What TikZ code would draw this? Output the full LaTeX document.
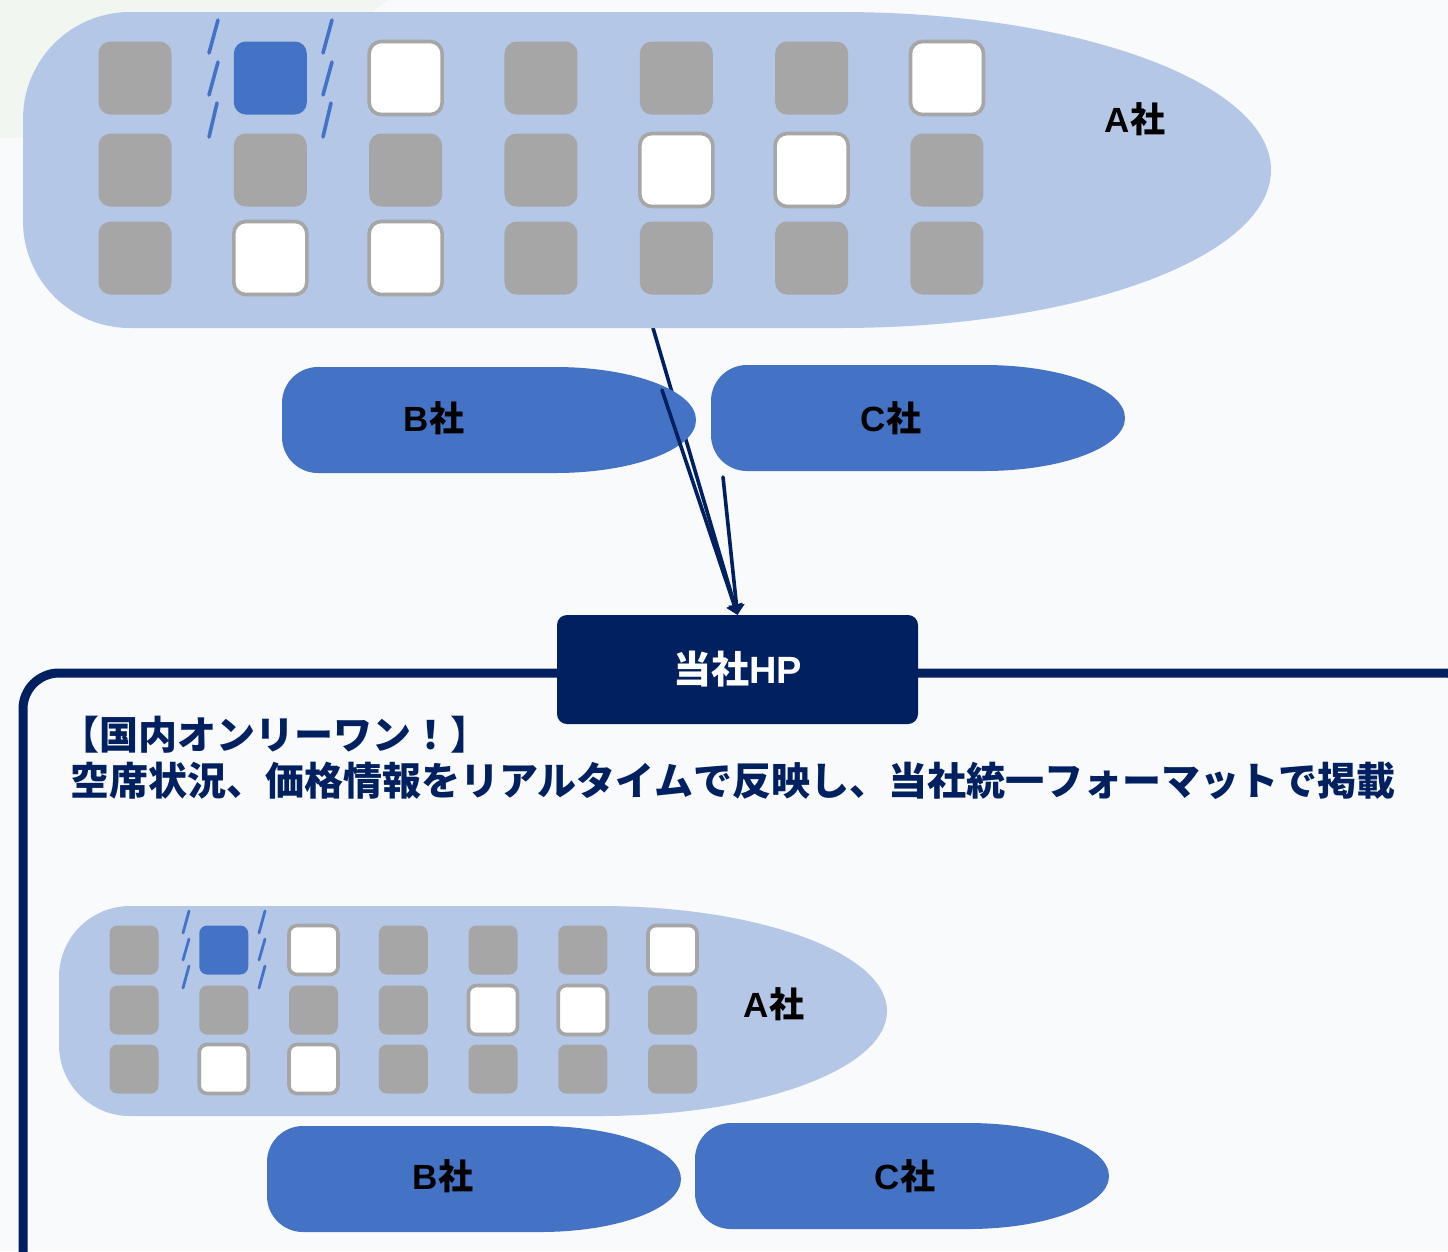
\documentclass[tikz,border=0pt]{standalone}
\usepackage{fontspec}
\usetikzlibrary{arrows.meta}
\setmainfont{Liberation Sans}
\newfontfamily\cjk{Noto Sans CJK JP}
\definecolor{bgc}{HTML}{F8FAFC}
\definecolor{greenc}{HTML}{F1F6F0}
\definecolor{lightb}{HTML}{B4C7E7}
\definecolor{midb}{HTML}{4472C4}
\definecolor{navy}{HTML}{002060}
\definecolor{seatg}{HTML}{A6A6A6}
\def\sz{73pt}\def\rr{12pt}
\tikzset{
  sg/.style={rectangle,inner sep=0pt,minimum size=\sz,rounded corners=\rr,fill=seatg},
  sb/.style={rectangle,inner sep=0pt,minimum size=\sz,rounded corners=\rr,fill=midb},
  sw/.style={rectangle,inner sep=0pt,minimum size=\sz,rounded corners=\rr,fill=white,draw=seatg,line width=3.6pt},
  tick/.style={draw=midb,line width=3.6pt,line cap=round},
  tickS/.style={draw=midb,line width=2.8pt,line cap=round},
  conn/.style={draw=navy,line width=3.6pt,line cap=round,-{Triangle[length=10pt,width=16pt]}},
  lbl/.style={font=\bfseries,text=black,inner sep=0pt},
}
\newcommand\planeshape[7]{% x1 y1 x2 y2 r xm colour
  \pgfmathsetmacro\ymid{(#2+#4)/2}
  \pgfmathsetmacro\ry{(#4-#2)/2}
  \pgfmathsetmacro\rxx{#3-#6}
  \fill[#7] (#1+#5,#2) -- (#6,#2)
    .. controls (#6+.5523*\rxx,#2) and (#3,\ymid-.5523*\ry) .. (#3,\ymid)
    .. controls (#3,\ymid+.5523*\ry) and (#6+.5523*\rxx,#4) .. (#6,#4)
    -- (#1+#5,#4)
    .. controls (#1+.4477*#5,#4) and (#1,#4-.4477*#5) .. (#1,#4-#5)
    -- (#1,#2+#5)
    .. controls (#1,#2+.4477*#5) and (#1+.4477*#5,#2) .. (#1+#5,#2) -- cycle;
}
\newcommand\seatgrid[6]{% prefix x0 dx y1 y2 y3
  \foreach \k [count=\c] in {sg,sb,sw,sg,sg,sg,sw}
    {\node[\k] (#1r1c\c) at ({#2+#3*(\c-1)},#4) {};}
  \foreach \k [count=\c] in {sg,sg,sg,sg,sw,sw,sg}
    {\node[\k] (#1r2c\c) at ({#2+#3*(\c-1)},#5) {};}
  \foreach \k [count=\c] in {sg,sw,sw,sg,sg,sg,sg}
    {\node[\k] (#1r3c\c) at ({#2+#3*(\c-1)},#6) {};}
}
\begin{document}
\begin{tikzpicture}[x=1pt,y=-1pt]
\useasboundingbox (0,0) rectangle (1448,1251);
\clip (0,0) rectangle (1448,1251);
\fill[bgc] (0,0) rectangle (1448,1251);
\fill[greenc] (0,0) -- (388,0) -- (372,12) -- (23,138) -- (0,138) -- cycle;
% frame
\draw[navy,line width=9pt,rounded corners=36pt] (23,673) rectangle (1480,1290);
% HP
\node[rectangle,fill=navy,rounded corners=10pt,minimum width=361pt,minimum height=109pt,inner sep=0pt,text=white,font=\bfseries\fontsize{38}{38}\selectfont] (hp) at (737.5,669.5) {{\cjk 当社}HP};
\coordinate (fromA) at (653,328);
\coordinate (fromB) at (662,390);
\coordinate (fromC) at (723,477);
\draw[conn] (fromA) -- (hp.north);
% plane A
\planeshape{23}{12}{1271}{328}{107}{840}{lightb}
\def\sz{73pt}\def\rr{12pt}
\seatgrid{a}{135}{135.33}{78}{170}{258}
\foreach \xa in {218,332}{
  \draw[tick] (\xa,20) -- (\xa-9,53);
  \draw[tick] (\xa,62) -- (\xa-9,95);
  \draw[tick] (\xa-1,103) -- (\xa-9,137);
}
\node[lbl,font=\bfseries\fontsize{35}{35}\selectfont] (la) at (1135,119) {A{\cjk 社}};
% plane B, C
\planeshape{282}{367}{696}{473}{36}{555}{midb}
\node[lbl,font=\bfseries\fontsize{35}{35}\selectfont] (lb) at (434,418) {B{\cjk 社}};
\draw[conn] (fromB) -- (hp.north);
\planeshape{711}{365}{1125}{471}{36}{984}{midb}
\node[lbl,font=\bfseries\fontsize{35}{35}\selectfont] (lc) at (891,418) {C{\cjk 社}};
\draw[conn] (fromC) -- (hp.north);
% heading
\node[anchor=west,inner sep=0pt,text=navy,font=\cjk\bfseries\fontsize{39}{39}\selectfont] (h1) at (60,735) {【国内オンリーワン！】};
\node[anchor=west,inner sep=0pt,text=navy,font=\cjk\bfseries\fontsize{39}{39}\selectfont] (h2) at (70,781) {空席状況、価格情報をリアルタイムで反映し、当社統一フォーマットで掲載};
% small plane
\planeshape{59}{906}{887}{1116}{71}{600}{lightb}
\def\sz{49pt}\def\rr{8pt}
\seatgrid{s}{134}{89.75}{950}{1010}{1069}
\foreach \xa in {189,265}{
  \draw[tickS] (\xa,911) -- (\xa-6,933);
  \draw[tickS] (\xa,939) -- (\xa-6,960);
  \draw[tickS] (\xa,966) -- (\xa-6,988);
}
\node[lbl,font=\bfseries\fontsize{35}{35}\selectfont] (sla) at (774,1004) {A{\cjk 社}};
\planeshape{267}{1126}{681}{1232}{36}{540}{midb}
\node[lbl,font=\bfseries\fontsize{35}{35}\selectfont] (slb) at (443,1176) {B{\cjk 社}};
\planeshape{695}{1123}{1109}{1229}{36}{968}{midb}
\node[lbl,font=\bfseries\fontsize{35}{35}\selectfont] (slc) at (905,1176) {C{\cjk 社}};
\end{tikzpicture}
\end{document}
